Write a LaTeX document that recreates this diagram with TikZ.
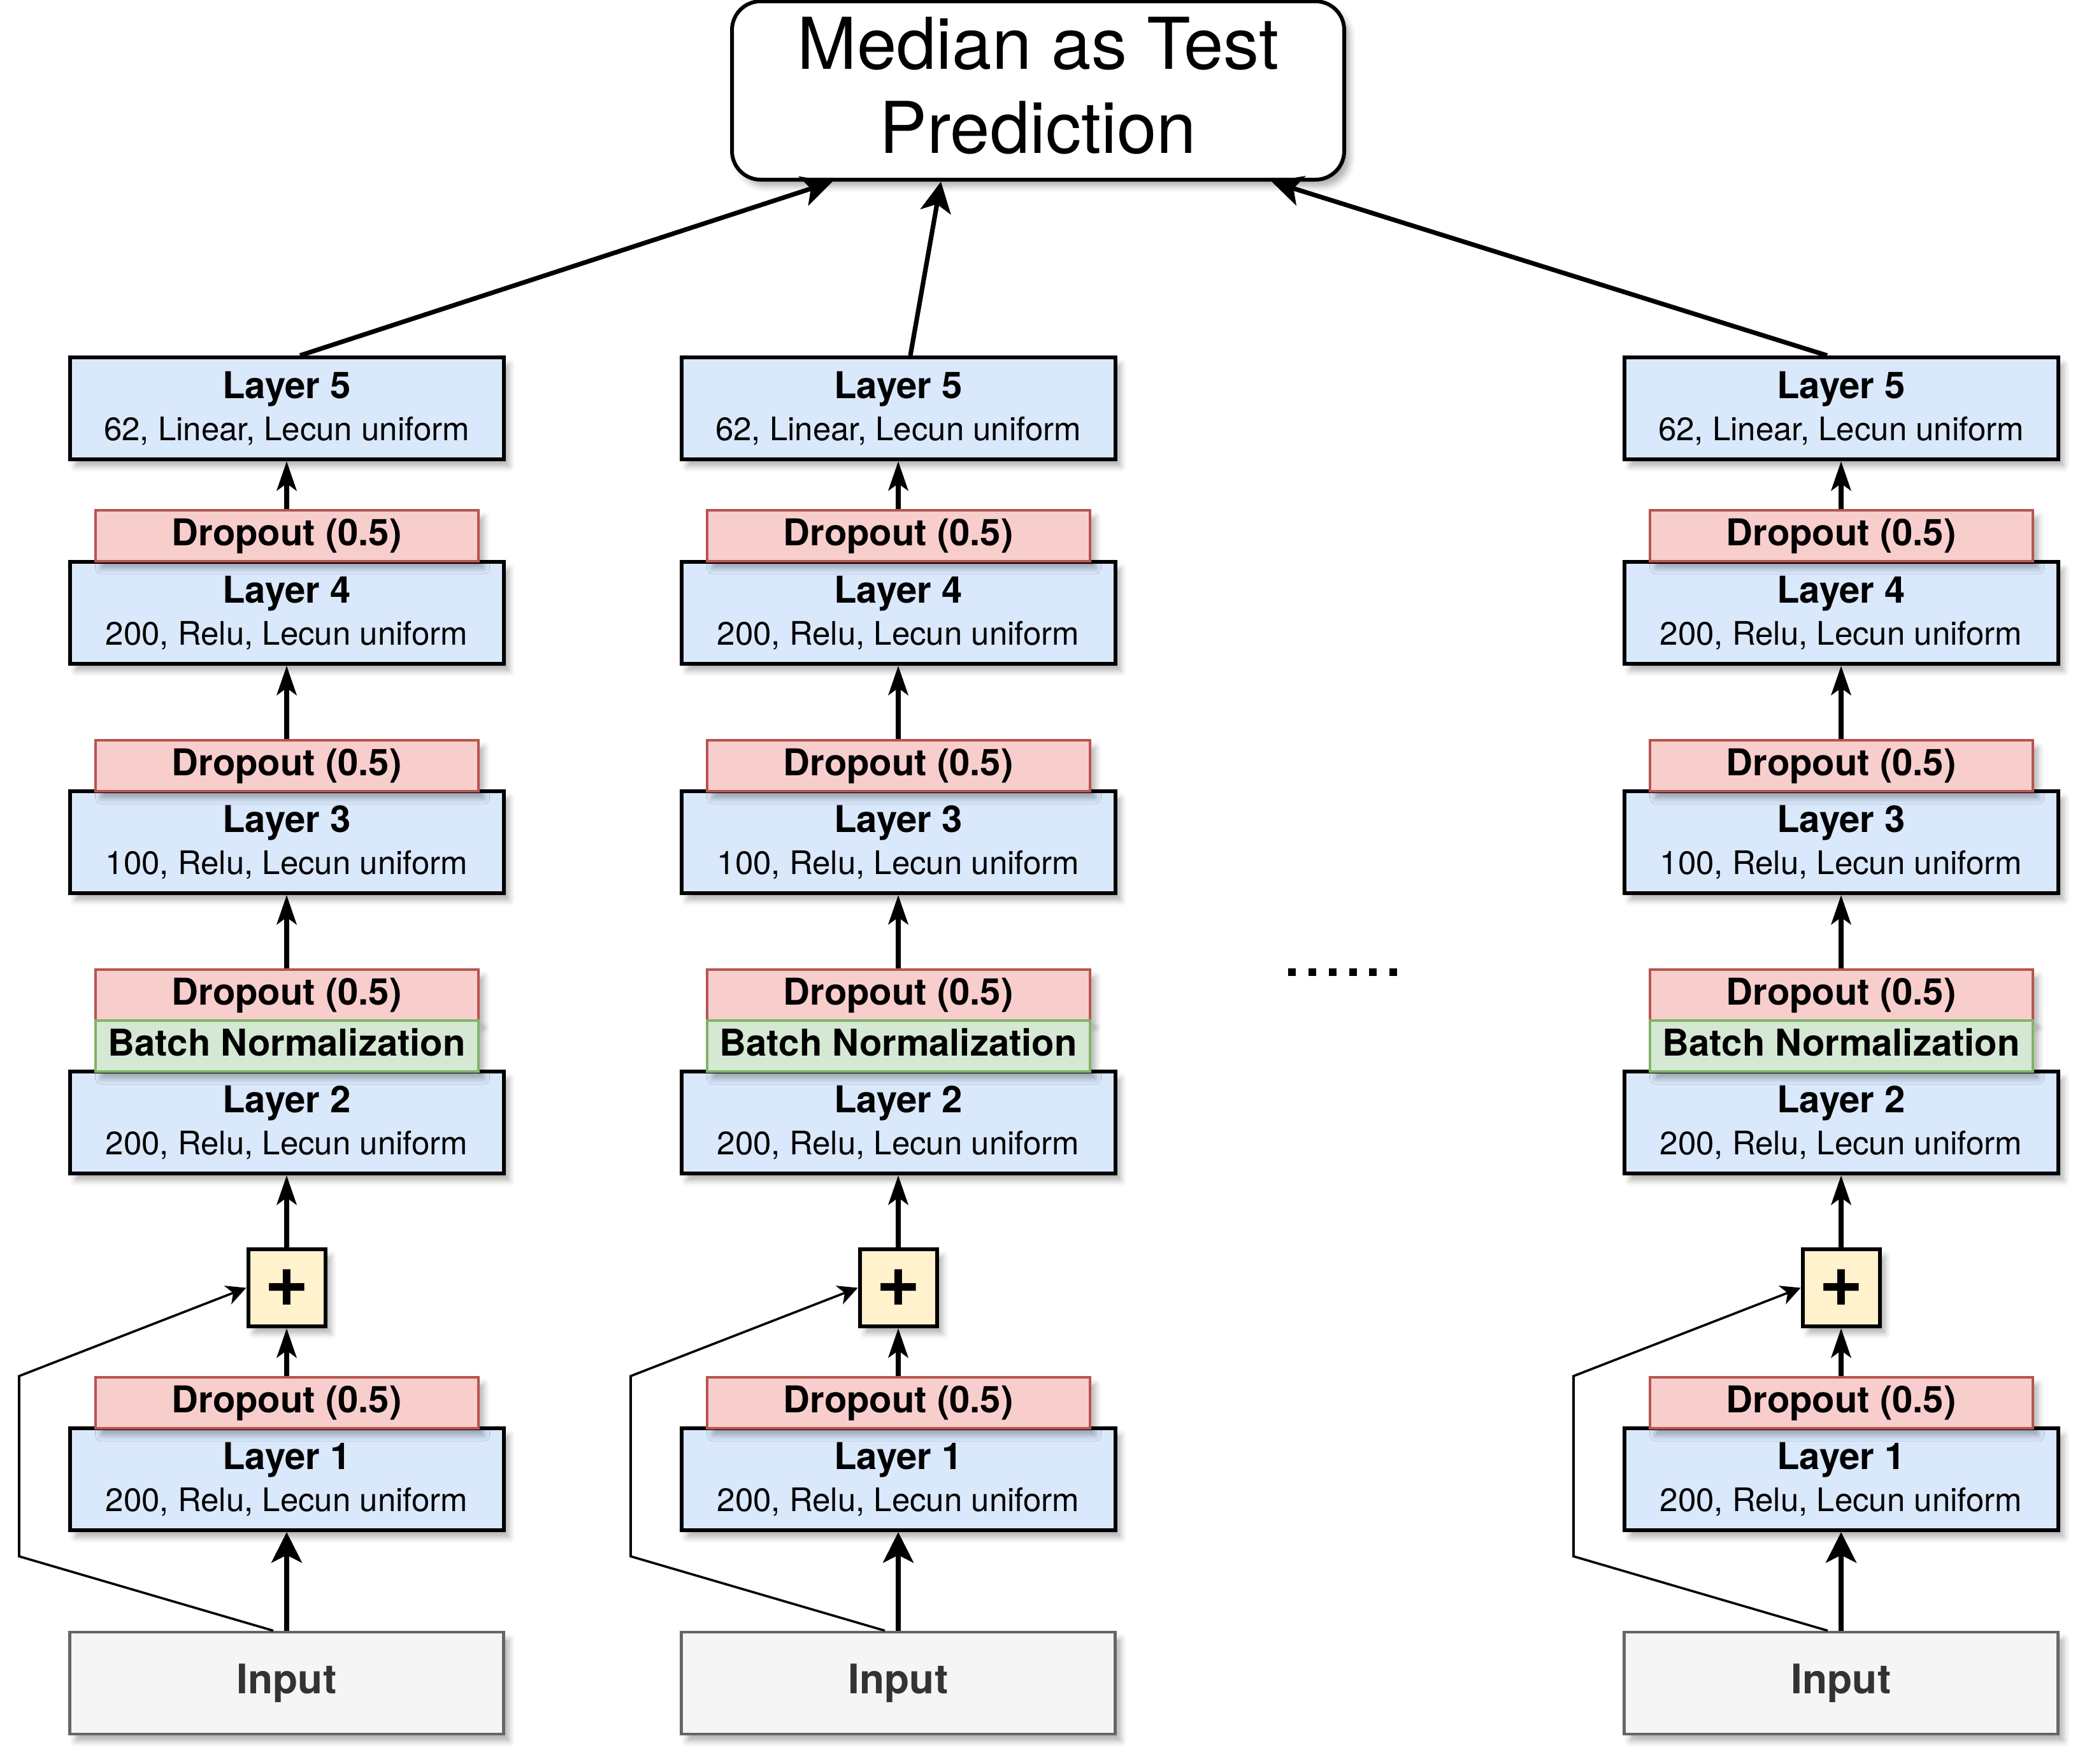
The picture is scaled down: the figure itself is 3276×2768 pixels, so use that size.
\documentclass[tikz,border=0pt]{standalone}
\usepackage{fontspec}
\usepackage{xcolor}
\setmainfont{TeX Gyre Heros}
\usetikzlibrary{arrows.meta,shadows.blur}

\definecolor{layerfill}{HTML}{DAE8FC}
\definecolor{dropfill}{HTML}{F8CECC}
\definecolor{dropline}{HTML}{B85450}
\definecolor{normfill}{HTML}{D5E8D4}
\definecolor{normline}{HTML}{82B366}
\definecolor{plusfill}{HTML}{FFF2CC}
\definecolor{inputfill}{HTML}{F5F5F5}
\definecolor{inputline}{HTML}{666666}
\definecolor{inputtext}{HTML}{333333}

\begin{document}
\begin{tikzpicture}[x=0.1mm, y=-0.1mm,
	boxshadow/.style={blur shadow={shadow xshift=0.9mm, shadow yshift=-1.1mm, shadow blur radius=0.9mm, shadow opacity=30}},
	layerbox/.style={boxshadow, draw, line width=0.6mm, fill=layerfill, minimum width=68.1mm, minimum height=16mm, inner sep=0pt, align=center, font=\fontsize{14.5pt}{19pt}\selectfont},
	dropbox/.style={boxshadow, draw=dropline, line width=0.4mm, fill=dropfill, minimum width=60.1mm, minimum height=8mm, inner sep=0pt, text height=4.35mm, text depth=1.2mm, font=\fontsize{16.5pt}{18.8pt}\selectfont\bfseries},
	normbox/.style={dropbox, draw=normline, fill=normfill},
	plusbox/.style={boxshadow, draw, line width=0.6mm, fill=plusfill, minimum width=12.1mm, minimum height=12.1mm, inner sep=0pt, font=\fontsize{34pt}{34pt}\selectfont\bfseries},
	inputbox/.style={boxshadow, draw=inputline, line width=0.46mm, fill=inputfill, text=inputtext, minimum width=68.1mm, minimum height=16mm, inner sep=0pt, font=\fontsize{18.2pt}{20pt}\selectfont\bfseries},
	medbox/.style={boxshadow, draw, line width=0.6mm, rounded corners=4.5mm, fill=white, minimum width=96.1mm, minimum height=28mm, inner sep=0pt, align=center, text depth=1.6mm, font=\fontsize{31.9pt}{37.6pt}\selectfont},
	flow/.style={line width=0.72mm, -{Stealth[length=4.6mm, width=3.1mm, inset=1.1mm]}},
	bigflow/.style={line width=0.72mm, -{Stealth[length=4.8mm, width=4.8mm, inset=1.2mm]}},
	skipline/.style={line width=0.36mm, -{Stealth[length=3.1mm, width=3.1mm, inset=0.9mm]}}]
	\useasboundingbox (0,0) rectangle (3276,2768);

	% prediction
	\node (med) at (1629.5,142) [medbox] {Median as Test\\Prediction};

	% first network
	\node (l5a) at (450,641) [layerbox] {\textbf{\fontsize{16.5pt}{19pt}\selectfont Layer 5}\\62, Linear, Lecun uniform};
	\node (l4a) at (450,962) [layerbox] {\textbf{\fontsize{16.5pt}{19pt}\selectfont Layer 4}\\200, Relu, Lecun uniform};
	\node (d4a) at (450,841) [dropbox] {Dropout (0.5)};
	\node (l3a) at (450,1322) [layerbox] {\textbf{\fontsize{16.5pt}{19pt}\selectfont Layer 3}\\100, Relu, Lecun uniform};
	\node (d3a) at (450,1202) [dropbox] {Dropout (0.5)};
	\node (l2a) at (450,1762) [layerbox] {\textbf{\fontsize{16.5pt}{19pt}\selectfont Layer 2}\\200, Relu, Lecun uniform};
	\node (d2a) at (450,1562) [dropbox] {Dropout (0.5)};
	\node (bna) at (450,1642) [normbox] {Batch Normalization};
	\node (pa) at (450,2021.5) [plusbox] {+};
	\node (l1a) at (450,2322) [layerbox] {\textbf{\fontsize{16.5pt}{19pt}\selectfont Layer 1}\\200, Relu, Lecun uniform};
	\node (d1a) at (450,2202) [dropbox] {Dropout (0.5)};
	\node (ina) at (450,2642) [inputbox] {Input};

	% second network
	\node (l5b) at (1410,641) [layerbox] {\textbf{\fontsize{16.5pt}{19pt}\selectfont Layer 5}\\62, Linear, Lecun uniform};
	\node (l4b) at (1410,962) [layerbox] {\textbf{\fontsize{16.5pt}{19pt}\selectfont Layer 4}\\200, Relu, Lecun uniform};
	\node (d4b) at (1410,841) [dropbox] {Dropout (0.5)};
	\node (l3b) at (1410,1322) [layerbox] {\textbf{\fontsize{16.5pt}{19pt}\selectfont Layer 3}\\100, Relu, Lecun uniform};
	\node (d3b) at (1410,1202) [dropbox] {Dropout (0.5)};
	\node (l2b) at (1410,1762) [layerbox] {\textbf{\fontsize{16.5pt}{19pt}\selectfont Layer 2}\\200, Relu, Lecun uniform};
	\node (d2b) at (1410,1562) [dropbox] {Dropout (0.5)};
	\node (bnb) at (1410,1642) [normbox] {Batch Normalization};
	\node (pb) at (1410,2021.5) [plusbox] {+};
	\node (l1b) at (1410,2322) [layerbox] {\textbf{\fontsize{16.5pt}{19pt}\selectfont Layer 1}\\200, Relu, Lecun uniform};
	\node (d1b) at (1410,2202) [dropbox] {Dropout (0.5)};
	\node (inb) at (1410,2642) [inputbox] {Input};

	% last network
	\node (l5c) at (2890,641) [layerbox] {\textbf{\fontsize{16.5pt}{19pt}\selectfont Layer 5}\\62, Linear, Lecun uniform};
	\node (l4c) at (2890,962) [layerbox] {\textbf{\fontsize{16.5pt}{19pt}\selectfont Layer 4}\\200, Relu, Lecun uniform};
	\node (d4c) at (2890,841) [dropbox] {Dropout (0.5)};
	\node (l3c) at (2890,1322) [layerbox] {\textbf{\fontsize{16.5pt}{19pt}\selectfont Layer 3}\\100, Relu, Lecun uniform};
	\node (d3c) at (2890,1202) [dropbox] {Dropout (0.5)};
	\node (l2c) at (2890,1762) [layerbox] {\textbf{\fontsize{16.5pt}{19pt}\selectfont Layer 2}\\200, Relu, Lecun uniform};
	\node (d2c) at (2890,1562) [dropbox] {Dropout (0.5)};
	\node (bnc) at (2890,1642) [normbox] {Batch Normalization};
	\node (pc) at (2890,2021.5) [plusbox] {+};
	\node (l1c) at (2890,2322) [layerbox] {\textbf{\fontsize{16.5pt}{19pt}\selectfont Layer 1}\\200, Relu, Lecun uniform};
	\node (d1c) at (2890,2202) [dropbox] {Dropout (0.5)};
	\node (inc) at (2890,2642) [inputbox] {Input};

	\node (dots) at (2108,1532) [anchor=base, font=\fontsize{32.7pt}{32.7pt}\selectfont] {......};

	% connections
	\draw [bigflow] ([xshift=2.1mm]l5a.north) -- ([xshift=16.1mm]med.south west);
	\draw [bigflow] ([xshift=1.9mm]l5b.north) -- ([xshift=-15.25mm]med.south);
	\draw [bigflow] ([xshift=-2.2mm]l5c.north) -- ([xshift=-11.7mm]med.south east);

	\draw [flow] (d4a.north) -- (l5a.south);
	\draw [flow] (d3a.north) -- (l4a.south);
	\draw [flow] (d2a.north) -- (l3a.south);
	\draw [flow] (pa.north) -- (l2a.south);
	\draw [flow] (d1a.north) -- (pa.south);
	\draw [bigflow] (ina.north) -- (l1a.south);
	\draw [skipline] ([xshift=-2.1mm]ina.north) -- (30,2443) -- (30,2160) -- (pa.west);

	\draw [flow] (d4b.north) -- (l5b.south);
	\draw [flow] (d3b.north) -- (l4b.south);
	\draw [flow] (d2b.north) -- (l3b.south);
	\draw [flow] (pb.north) -- (l2b.south);
	\draw [flow] (d1b.north) -- (pb.south);
	\draw [bigflow] (inb.north) -- (l1b.south);
	\draw [skipline] ([xshift=-2.1mm]inb.north) -- (990,2443) -- (990,2160) -- (pb.west);

	\draw [flow] (d4c.north) -- (l5c.south);
	\draw [flow] (d3c.north) -- (l4c.south);
	\draw [flow] (d2c.north) -- (l3c.south);
	\draw [flow] (pc.north) -- (l2c.south);
	\draw [flow] (d1c.north) -- (pc.south);
	\draw [bigflow] (inc.north) -- (l1c.south);
	\draw [skipline] ([xshift=-2.1mm]inc.north) -- (2470,2443) -- (2470,2160) -- (pc.west);
\end{tikzpicture}
\end{document}
